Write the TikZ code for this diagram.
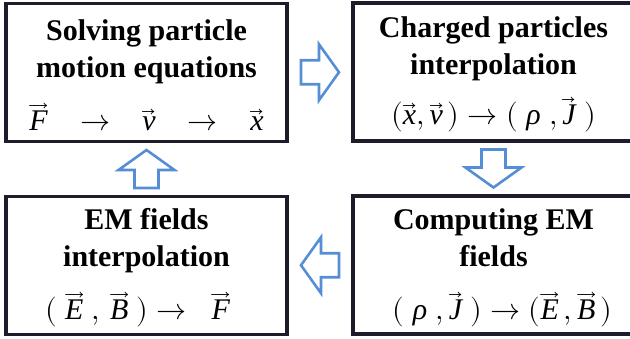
\documentclass[tikz,border=0pt]{standalone}
\usepackage{unicode-math}
\setmainfont{Liberation Serif}
\setmathfont{Latin Modern Math}
\usetikzlibrary{calc}
\definecolor{flow}{RGB}{85,142,213}
\definecolor{frame}{RGB}{28,28,42}
% vector letters, short and long arrow
\newcommand{\vs}[1]{\vec{\mbox{\normalfont\itshape #1}}}
\newcommand{\vl}[1]{\overrightarrow{\mbox{\normalfont\itshape #1}}}
\newcommand{\mi}[1]{\mbox{\normalfont\itshape #1}}
\newcommand{\gap}{\hspace{0.8em}}
\newcommand{\topstrut}{\rule{0pt}{26pt}}

\begin{document}
\begin{tikzpicture}[x=1pt, y=-1pt,
  stage/.style={draw=frame, line width=3.2pt, minimum width=281pt,
                minimum height=138pt, align=center, inner sep=0pt,
                font=\fontsize{30}{37}\selectfont\bfseries},
  blockarrow/.pic={
    \draw[flow, line width=2.6pt, line join=miter]
      (-19,-12) -- (-1,-12) -- (-1,-28) -- (19,0) -- (-1,28) -- (-1,12) -- (-19,12) -- cycle;
  }]
  \clip (0,0) rectangle (630,339);
  \node[stage] (motion) at (146.5,72.5)
    {\topstrut Solving particle\\ motion equations\\[16pt]
     $\vl{F}\gap\rightarrow\gap\vs{v}\gap\rightarrow\gap\vs{x}$};
  \node[stage] (charge) at (493.5,72)
    {\topstrut Charged particles\\ interpolation\\[13pt]
     $(\vs{x}, \vs{v}\,) \rightarrow (\;\mi{ρ}\;, \vs{J}\;)$};
  \node[stage] (solver) at (493.5,265)
    {\topstrut Computing EM\\ fields\\[16pt]
     $\hspace{0.6em}(\;\mi{ρ}\;, \vs{J}\;) \rightarrow (\vl{E}\,, \vl{B}\,)$};
  \node[stage] (gather) at (146.5,265.5)
    {\topstrut EM fields\\ interpolation\\[16pt]
     $(\;\vl{E}\;,\,\vl{B}\;) \rightarrow \;\;\vl{F}\hspace{0.6em}$};
  % flow between the stages
  \pic at ($(motion.east)!0.5!(charge.west)$) {blockarrow};
  \pic[rotate=-90] at ($(charge.south)!0.5!(solver.north)$) {blockarrow};
  \pic[rotate=180] at ($(solver.west)!0.5!(gather.east)$) {blockarrow};
  \pic[rotate=90] at ($(gather.north)!0.5!(motion.south)$) {blockarrow};
\end{tikzpicture}
\end{document}
